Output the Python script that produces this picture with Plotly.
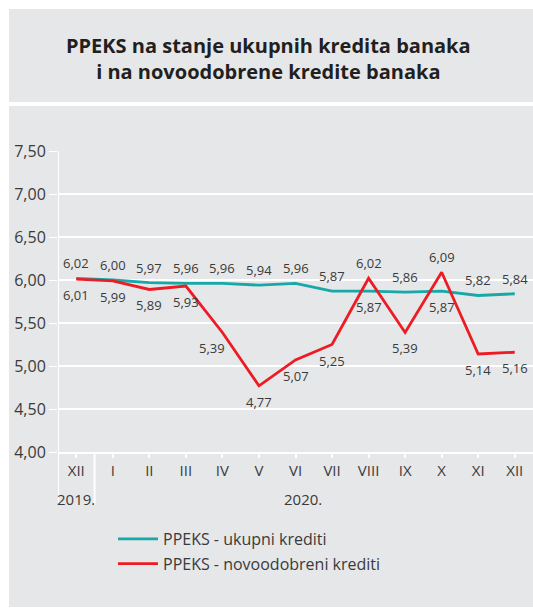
import plotly.graph_objects as go

categories = ["XII", "I", "II", "III", "IV", "V", "VI", "VII", "VIII", "IX", "X", "XI", "XII"]
ukupni = [6.02, 6.00, 5.97, 5.96, 5.96, 5.94, 5.96, 5.87, 5.87, 5.86, 5.87, 5.82, 5.84]
novoodobreni = [6.01, 5.99, 5.89, 5.93, 5.39, 4.77, 5.07, 5.25, 6.02, 5.39, 6.09, 5.14, 5.16]
ukupni_pos = ["top", "top", "top", "top", "top", "top", "top", "top", "bottom", "top", "bottom", "top", "top"]
novo_pos = ["bottom", "bottom", "bottom", "bottom", "bottomleft", "bottom", "bottom", "bottom", "top", "bottom", "top", "bottom", "bottom"]
y_ticks = [4.0, 4.5, 5.0, 5.5, 6.0, 6.5, 7.0, 7.5]
year_labels = ["2019.", "2020."]

W, H = 533, 609
L, R, T, B = 58, 0, 151, 157
PW, PH = W - L - R, H - T - B

def px_x(v):
    return (v - L) / PW

def px_y(v):
    return (H - B - v) / PH

TEAL = "#17a8a8"
RED = "#ed1c24"
GRAY = "#e6e7e9"
TXT = "#3a3a3a"
FONT = "Open Sans"

xs = list(range(len(categories)))

fig = go.Figure()
fig.add_trace(go.Scatter(x=xs, y=ukupni, mode="lines", name="PPEKS - ukupni krediti",
                         legendgroup="a", line=dict(color=TEAL, width=2.8)))
fig.add_trace(go.Scatter(x=xs, y=novoodobreni, mode="lines", name="PPEKS - novoodobreni krediti",
                         legendgroup="b", line=dict(color=RED, width=2.8)))

def fmt(v):
    return f"{v:.2f}".replace(".", ",")

annotations = []
for series, positions in ((ukupni, ukupni_pos), (novoodobreni, novo_pos)):
    for i, (v, p) in enumerate(zip(series, positions)):
        ys = 15 if p == "top" else -16
        xsft = -10 if p == "bottomleft" else 0
        annotations.append(dict(x=i, y=v, xref="x", yref="y", text=fmt(v), showarrow=False,
                                yshift=ys, xshift=xsft,
                                font=dict(family=FONT, size=13, color=TXT)))

annotations.append(dict(x=0, y=px_y(499), xref="x", yref="paper", text=year_labels[0],
                        showarrow=False, yanchor="middle",
                        font=dict(family=FONT, size=15, color=TXT)))
annotations.append(dict(x=6.2, y=px_y(499), xref="x", yref="paper", text=year_labels[1],
                        showarrow=False, yanchor="middle",
                        font=dict(family=FONT, size=15, color=TXT)))
annotations.append(dict(x=px_x(268), y=px_y(58), xref="paper", yref="paper",
                        text="PPEKS na stanje ukupnih kredita banaka<br>i na novoodobrene kredite banaka",
                        showarrow=False, align="center", yanchor="middle", xanchor="center",
                        font=dict(family=FONT, size=20, color="#231f20", weight=700)))

shapes = [
    dict(type="rect", xref="paper", yref="paper", x0=px_x(9), x1=1.0, y0=px_y(102), y1=px_y(9),
         fillcolor=GRAY, line=dict(width=0), layer="below"),
    dict(type="rect", xref="paper", yref="paper", x0=px_x(9), x1=1.0, y0=px_y(607), y1=px_y(106),
         fillcolor=GRAY, line=dict(width=0), layer="below"),
    dict(type="line", xref="x", yref="paper", x0=0.5, x1=0.5, y0=px_y(505), y1=0,
         line=dict(color="white", width=2)),
    dict(type="line", xref="x", yref="paper", x0=-0.5, x1=-0.5, y0=px_y(505), y1=1,
         line=dict(color="white", width=2)),
]

fig.update_layout(
    width=W, height=H,
    margin=dict(l=L, r=R, t=T, b=B),
    paper_bgcolor="white",
    plot_bgcolor="rgba(0,0,0,0)",
    showlegend=True,
    legend=dict(x=px_x(113), y=px_y(522), xanchor="left", yanchor="top",
                bgcolor="rgba(0,0,0,0)", font=dict(family=FONT, size=16, color=TXT),
                tracegroupgap=1, itemwidth=40),
    annotations=annotations,
    shapes=shapes,
    xaxis=dict(tickmode="array", tickvals=xs, ticktext=categories, range=[-0.5, len(categories) - 0.5],
               showgrid=False, zeroline=False, showline=True, linecolor="white", linewidth=2,
               ticks="outside", tickson="boundaries", ticklen=4, tickcolor="white", tickwidth=2,
               tickfont=dict(family=FONT, size=15, color=TXT), fixedrange=True),
    yaxis=dict(range=[4.0, 7.5], tickmode="array", tickvals=y_ticks,
               ticktext=[fmt(v) for v in y_ticks],
               showgrid=True, gridcolor="white", gridwidth=2, zeroline=False,
               showline=False, ticks="outside", ticklen=8, tickcolor="white", tickwidth=1,
               tickfont=dict(family=FONT, size=16, color=TXT), fixedrange=True),
)

fig.write_html("out.html", config={"displayModeBar": False},
               post_script="document.body.style.margin='0';document.body.style.overflow='hidden';")
